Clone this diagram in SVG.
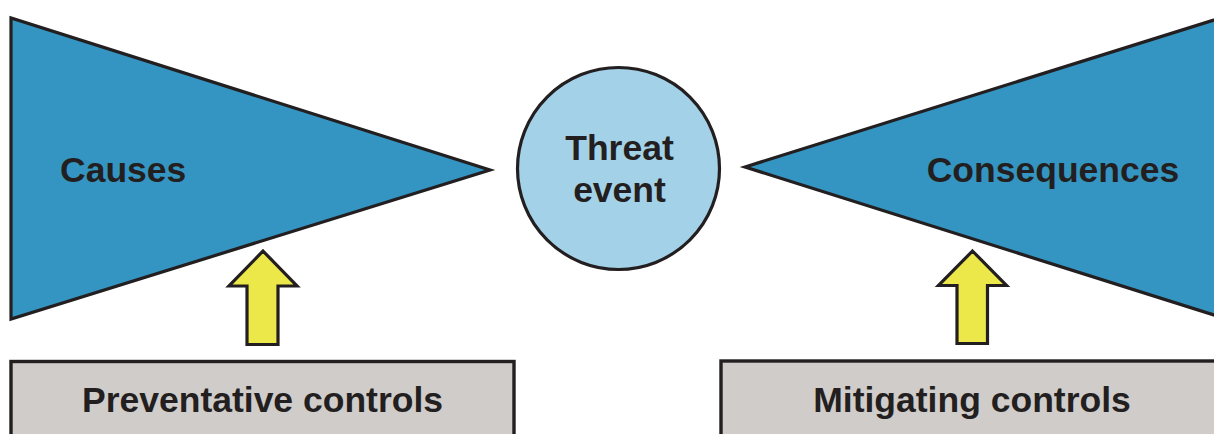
<svg xmlns="http://www.w3.org/2000/svg" width="1214" height="434" viewBox="0 0 1214 434">
<style>
.tri{fill:#3495C2;stroke:#231F20;stroke-width:3.2;stroke-linejoin:miter}
.circ{fill:#A3D2E8;stroke:#231F20;stroke-width:3.2}
.box{fill:#D0CCCA;stroke:#231F20;stroke-width:3.4}
.arr{fill:#EDE84A;stroke:#231F20;stroke-width:3.2;stroke-linejoin:miter}
.lbl{font-family:"Liberation Sans",Arial,sans-serif;font-weight:bold;font-size:35.5px;fill:#231F20}
</style>
<rect width="1214" height="434" fill="#FFFFFF"/>
<g id="causes">
<polygon class="tri" points="11,18 11,319 490,170"/>
<text class="lbl" x="60" y="182">Causes</text>
</g>
<g id="consequences">
<polygon class="tri" points="745,167 1225,16.5 1225,318.5"/>
<text class="lbl" x="1053" y="182" text-anchor="middle">Consequences</text>
</g>
<g id="threat-event">
<circle class="circ" cx="618.5" cy="168.5" r="101"/>
<text class="lbl" x="619.5" y="160" text-anchor="middle">Threat</text>
<text class="lbl" x="619.5" y="201.5" text-anchor="middle">event</text>
</g>
<g id="preventative-controls">
<rect class="box" x="11" y="361.5" width="503" height="90"/>
<text class="lbl" x="262.5" y="412" text-anchor="middle">Preventative controls</text>
</g>
<g id="mitigating-controls">
<rect class="box" x="721" y="361" width="510" height="90"/>
<text class="lbl" x="972" y="412" text-anchor="middle">Mitigating controls</text>
</g>
<g id="connectors">
<polygon class="arr" points="263,251 297,286 278,286 278,344.5 247,344.5 247,286 229,286"/>
<polygon class="arr" points="972.5,251 1006.5,285.5 987.5,285.5 987.5,343.5 957,343.5 957,285.5 938.5,285.5"/>
</g>
</svg>
